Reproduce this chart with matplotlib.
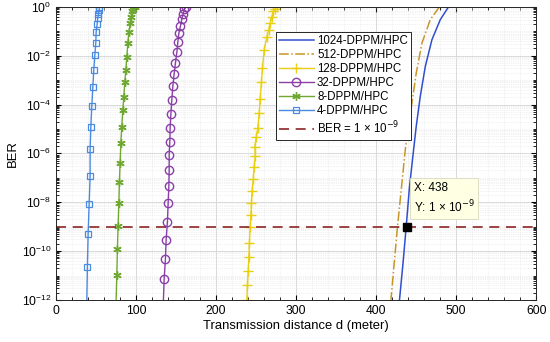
import numpy as np
import matplotlib.pyplot as plt
from matplotlib.ticker import LogLocator, NullFormatter, MultipleLocator

plt.rcParams['font.family'] = ['Liberation Sans', 'DejaVu Sans']

# values (distance in meter, BER as log10 exponent)
d_1024 = [490.4, 480.0, 469.6, 461.3, 455.0, 450.0, 446.7, 441.5, 437.5, 433.5, 429.1]
e_1024 = [0.0, -0.53, -1.35, -2.45, -3.68, -4.9, -5.86, -7.4, -9.0, -10.5, -12.0]

d_512 = [479.0, 467.5, 457.1, 450.0, 444.6, 439.1, 436.3, 432.1, 426.6, 422.5, 418.4]
e_512 = [0.0, -0.53, -1.49, -2.72, -3.95, -5.18, -5.86, -7.23, -9.0, -10.5, -12.0]

d_128 = [275.9, 273.5, 271.6, 269.5, 267.5, 265.5, 263.4, 260.0, 257.9, 256.6, 255.0,
         253.8, 252.1, 250.0, 248.4, 248.8, 247.5, 246.3, 245.0, 244.1, 243.4, 242.5,
         241.6, 240.9, 240.0, 239.1, 238.4]
e_128 = [0.0, -0.1, -0.19, -0.42, -0.67, -0.95, -1.22, -1.76, -2.51, -3.06, -3.78,
         -4.36, -4.95, -5.32, -5.73, -6.11, -6.54, -7.06, -7.53, -8.05, -8.52, -9.03,
         -9.66, -10.23, -10.82, -11.39, -12.0]

d_32 = [162.5, 160.4, 158.8, 157.1, 155.4, 153.4, 152.1, 150.9, 149.1, 147.5, 145.9,
        144.6, 143.4, 142.5, 142.1, 141.3, 141.3, 140.9, 140.0, 139.1, 137.5, 136.6,
        135.0, 134.1]
e_32 = [0.0, -0.10, -0.29, -0.50, -0.78, -1.08, -1.45, -1.86, -2.31, -2.75, -3.24,
        -3.81, -4.40, -4.96, -5.52, -6.07, -6.68, -7.34, -8.05, -8.80, -9.55, -10.34,
        -11.16, -12.0]

d_8 = [98.0, 96.7, 95.0, 93.8, 92.5, 90.9, 89.6, 88.4, 87.1, 85.9, 84.6, 83.4, 82.1,
       80.9, 80.0, 79.1, 78.4, 77.5, 76.6, 75.9, 75.0]
e_8 = [0.0, -0.09, -0.19, -0.40, -0.67, -1.05, -1.49, -2.06, -2.58, -3.07, -3.68,
       -4.22, -4.91, -5.59, -6.38, -7.19, -8.05, -8.98, -9.93, -10.98, -12.0]

d_4 = [54.1, 53.8, 52.9, 52.1, 51.3, 50.0, 49.6, 48.4, 47.1, 45.9, 44.6, 43.4, 42.5,
       42.5, 41.3, 40.0, 39.1, 38.4]
e_4 = [0.0, -0.12, -0.29, -0.46, -0.70, -1.05, -1.49, -1.98, -2.58, -3.27, -4.06,
       -4.91, -5.83, -6.93, -8.07, -9.32, -10.64, -12.0]

ber_limit = 1e-9
tip_x = 438

fig = plt.figure(figsize=(5.5, 3.42), dpi=100)
ax = fig.add_axes([0.102, 0.123, 0.873, 0.857])

ax.plot(d_1024, 10.0 ** np.array(e_1024), '-', color='#2f4fcf', lw=1.1, label='1024-DPPM/HPC')
ax.plot(d_512, 10.0 ** np.array(e_512), '-.', color='#c8962a', lw=1.1, label='512-DPPM/HPC')
ax.plot(d_128, 10.0 ** np.array(e_128), '-', color='#e8cf10', lw=1.0, marker='+',
        ms=7, mew=1.0, label='128-DPPM/HPC')
ax.plot(d_32, 10.0 ** np.array(e_32), '-', color='#8a3fa8', lw=1.0,
        marker='o', ms=6, mfc='none', mew=1.0, markevery=list(range(len(d_32) - 1)),
        label='32-DPPM/HPC')
ax.plot(d_8, 10.0 ** np.array(e_8), '-', color='#6fa830', lw=1.0, marker=(6, 2, 0),
        ms=6, mew=1.0, markevery=list(range(len(d_8) - 1)), label='8-DPPM/HPC')
ax.plot(d_4, 10.0 ** np.array(e_4), '-', color='#4a8ae0', lw=1.0, marker='s', ms=5,
        mfc='none', mew=0.9, markevery=list(range(len(d_4) - 1)), label='4-DPPM/HPC')
ax.axhline(ber_limit, color='#8b2424', ls=(0, (6, 4)), lw=1.2, label=r'BER = 1 × 10$^{-9}$')

# data tip
ax.plot([tip_x], [ber_limit], 's', color='black', ms=6, zorder=5)
ax.text(tip_x + 9, 10 ** -7.85, 'X: 438\nY: 1 × 10$^{-9}$', fontsize=8.5, va='center',
        linespacing=1.35,
        bbox=dict(boxstyle='square,pad=0.3', fc='#ffffe4', ec='#d8d8c0', lw=0.6))

ax.set_yscale('log')
ax.set_xlim(0, 600)
ax.set_ylim(1e-12, 1)
ax.set_yticks([10.0 ** k for k in range(-12, 1, 2)])
ax.yaxis.set_minor_locator(LogLocator(base=10, subs=np.arange(1, 10), numticks=50))
ax.yaxis.set_minor_formatter(NullFormatter())
ax.xaxis.set_major_locator(MultipleLocator(100))
ax.xaxis.set_minor_locator(MultipleLocator(20))

ax.grid(True, which='major', color='#d9d9d9', lw=0.7)
ax.grid(True, which='minor', color='#e3e3e3', lw=0.5, ls=':')
ax.tick_params(which='both', direction='in', top=True, right=True, labelsize=8.7)
ax.tick_params(which='minor', length=2.5)
for s in ax.spines.values():
    s.set_color('#262626')
    s.set_linewidth(0.7)

ax.set_xlabel('Transmission distance d (meter)', fontsize=9.4, labelpad=2)
ax.set_ylabel('BER', fontsize=9.4, labelpad=2)

leg = ax.legend(loc='upper left', bbox_to_anchor=(0.445, 0.935), fontsize=8.3,
                handlelength=3.0, handletextpad=0.3, borderpad=0.3, labelspacing=0.18,
                fancybox=False, edgecolor='#262626', framealpha=1)
leg.get_frame().set_linewidth(0.7)

fig.savefig('out.png', dpi=100)
